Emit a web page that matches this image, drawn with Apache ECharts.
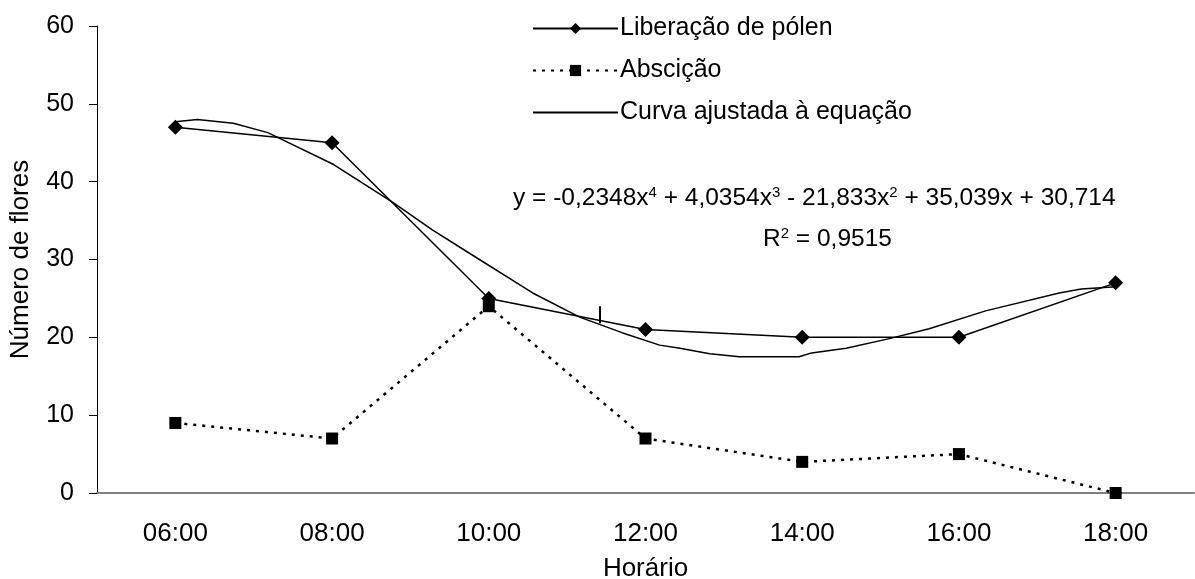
<!DOCTYPE html>
<html>
<head>
<meta charset="utf-8">
<script src="https://cdn.jsdelivr.net/npm/echarts@6/dist/echarts.min.js"></script>
<style>
  html, body { margin: 0; padding: 0; background: #fff; }
  #main { width: 1195px; height: 579px; }
</style>
</head>
<body>
<div id="main"></div>
<script>
const hours = ["06:00", "08:00", "10:00", "12:00", "14:00", "16:00", "18:00"];
const liberacao = [47, 45, 25, 21, 20, 20, 27];
const abscicao = [9, 7, 24, 7, 4, 5, 0];
// fitted curve (x = category position 1..7)
const fitX = [1.0, 1.14, 1.37, 1.59, 2.01, 2.39, 2.64, 2.94, 3.13, 3.28, 3.58, 3.85, 4.09, 4.22, 4.41, 4.6, 4.98, 5.06, 5.28, 5.57, 5.81, 6.17, 6.64, 6.78, 7.0];
const fitY = [47.7, 48.0, 47.5, 46.3, 42.2, 37.3, 33.8, 30.0, 27.6, 25.7, 22.6, 20.6, 19.0, 18.6, 17.9, 17.5, 17.5, 18.0, 18.6, 19.9, 21.1, 23.4, 25.7, 26.2, 26.5];
const yTicks = [0, 10, 20, 30, 40, 50, 60];

const chartElement = document.getElementById("main");
const font = "'Liberation Sans', Arial, sans-serif";

function fitPoints() {
  return fitX.map((x, i) => [x, fitY[i]]);
}

function chartOption() {
  return {
    animation: false,
    textStyle: { fontFamily: font, color: "#000" },
    grid: { left: 97, right: 1, top: 26, bottom: 86, outerBoundsMode: "none", containLabel: false },
    legend: {
      orient: "vertical",
      left: 527,
      top: 11,
      itemWidth: 85,
      itemHeight: 14,
      itemGap: 17,
      textStyle: { fontSize: 25, color: "#000", fontFamily: font, padding: [0, 0, 0, -3] },
      data: ["Liberação de pólen", "Abscição", "Curva ajustada à equação"],
    },
    graphic: [
      {
        type: "text",
        left: 513,
        top: 185,
        style: {
          text: "y = -0,2348x{s|4} + 4,0354x{s|3} - 21,833x{s|2} + 35,039x + 30,714",
          font: "24.5px " + font,
          fill: "#000",
          rich: { s: { fontSize: 15, fontFamily: font, padding: [0, 0, 12, 0] } },
        },
      },
      {
        type: "text",
        left: 763,
        top: 226,
        style: {
          text: "R{s|2} = 0,9515",
          font: "24.5px " + font,
          fill: "#000",
          rich: { s: { fontSize: 15, fontFamily: font, padding: [0, 0, 12, 0] } },
        },
      },
    ],
    xAxis: [
      {
        type: "category",
        data: hours,
        position: "bottom",
        boundaryGap: true,
        name: "Horário",
        nameLocation: "middle",
        nameGap: 63,
        nameTextStyle: { fontSize: 26, color: "#000" },
        axisLine: { onZero: false, lineStyle: { color: "#808080", width: 2 } },
        axisTick: { length: 8, lineStyle: { color: "#000", width: 1 } },
        axisLabel: { fontSize: 26, color: "#000", margin: 28 },
      },
      {
        type: "value",
        min: 0.5,
        max: 7.5,
        show: false,
      },
      {
        type: "category",
        data: hours,
        position: "bottom",
        boundaryGap: true,
        axisLine: { show: false, onZero: false },
        axisTick: { inside: true, length: 8, lineStyle: { color: "#000", width: 1 } },
        axisLabel: { show: false },
      },
    ],
    yAxis: {
      type: "value",
      min: 0,
      max: 60,
      interval: 10,
      name: "Número de flores",
      nameLocation: "middle",
      nameGap: 63,
      nameTextStyle: { fontSize: 26, color: "#000" },
      splitLine: { show: false },
      axisLine: { show: true, lineStyle: { color: "#000", width: 1 } },
      axisTick: { show: true, length: 8, lineStyle: { color: "#000" } },
      axisLabel: {
        fontSize: 25,
        color: "#000",
        margin: 23,
        formatter: (v) => (yTicks.includes(v) ? String(v) : ""),
      },
    },
    series: [
      {
        name: "Curva ajustada à equação",
        type: "line",
        xAxisIndex: 1,
        data: fitPoints(),
        showSymbol: false,
        lineStyle: { color: "#000", width: 1.5 },
        itemStyle: { color: "#000", opacity: 0 },
        markLine: {
          silent: true,
          symbol: "none",
          label: { show: false },
          lineStyle: { color: "#000", width: 2, type: "solid", opacity: 1 },
          data: [[{ coord: [3.71, 21.8] }, { coord: [3.71, 24.0] }]],
        },
        z: 2,
      },
      {
        name: "Abscição",
        type: "line",
        data: abscicao,
        symbol: "rect",
        symbolSize: 12,
        lineStyle: { color: "#000", width: 2.5, type: [3, 6] },
        itemStyle: { color: "#000" },
        z: 3,
      },
      {
        name: "Liberação de pólen",
        type: "line",
        data: liberacao,
        symbol: "diamond",
        symbolSize: 15,
        lineStyle: { color: "#000", width: 1.5 },
        itemStyle: { color: "#000" },
        z: 4,
      },
    ],
  };
}

function initChart(element) {
  if (!element) return;
  const chart = echarts.init(element);
  chart.setOption(chartOption());
  return chart;
}

initChart(chartElement);
</script>
</body>
</html>
